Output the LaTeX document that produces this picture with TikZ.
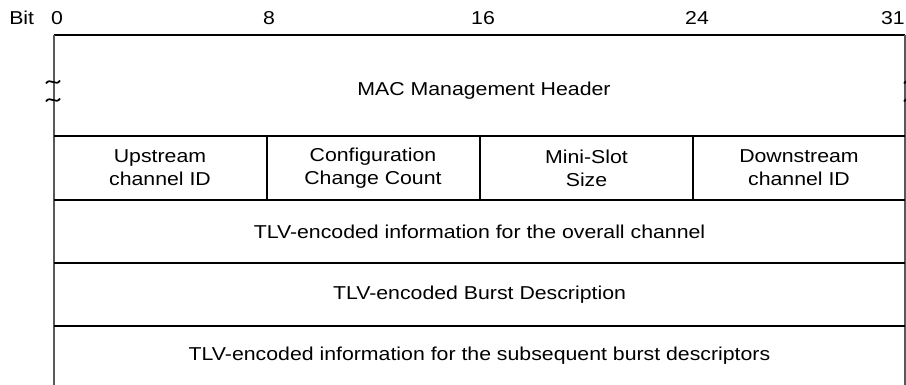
\documentclass[tikz,border=0pt]{standalone}
\usepackage{fontspec}
\setmainfont{Liberation Sans}[FakeStretch=1.14]
\begin{document}
\begin{tikzpicture}[x=0.75pt,y=-0.75pt,
  hline/.style={line width=1.5pt,black},
  vline/.style={line width=1pt,black!65},
  divline/.style={line width=1.5pt,black},
  lbl/.style={font=\fontsize{14}{17.25}\selectfont,align=center,inner sep=0pt},
  squig/.style={line width=1.3pt,black}]
\useasboundingbox (0,0) rectangle (906,385);
% bit ruler
\node[lbl,anchor=west] (bit) at (9,18) {Bit};
\node[lbl] (b0) at (57,18) {0};
\node[lbl] (b8) at (269,18) {8};
\node[lbl] (b16) at (483,18) {16};
\node[lbl] (b24) at (697,18) {24};
\node[lbl,anchor=east] (b31) at (905,18) {31};
% frame
\draw[line width=1pt] (54,35) -- (905,35);
\draw[vline] (54,35) -- (54,385);
\draw[vline] (905,35) -- (905,385);
\foreach \y in {136,200,263,326} \draw[hline] (54,\y) -- (905,\y);
\foreach \x in {266.75,480,693} \draw[divline] (\x,136) -- (\x,200);
% squiggles
\foreach \cx in {53,911} \foreach \cy in {82,100}
  \draw[squig] (\cx-7,\cy+1.5) .. controls (\cx-3,\cy-5) and (\cx+3,\cy+5) .. (\cx+7,\cy-1.5);
% texts
\node[lbl] (hdr) at (484,91) {MAC Management Header};
\node[lbl] (up) at (160,168) {Upstream\\channel ID};
\node[lbl] (cfg) at (373,168) {Configuration\\Change Count};
\node[lbl] (ms) at (586.5,168) {Mini-Slot\\Size};
\node[lbl] (dn) at (799,168) {Downstream\\channel ID};
\node[lbl] (tlv1) at (479.5,231.5) {TLV-encoded information for the overall channel};
\node[lbl] (tlv2) at (479.5,294.5) {TLV-encoded Burst Description};
\node[lbl] (tlv3) at (479.5,356) {TLV-encoded information for the subsequent burst descriptors};
\end{tikzpicture}
\end{document}
